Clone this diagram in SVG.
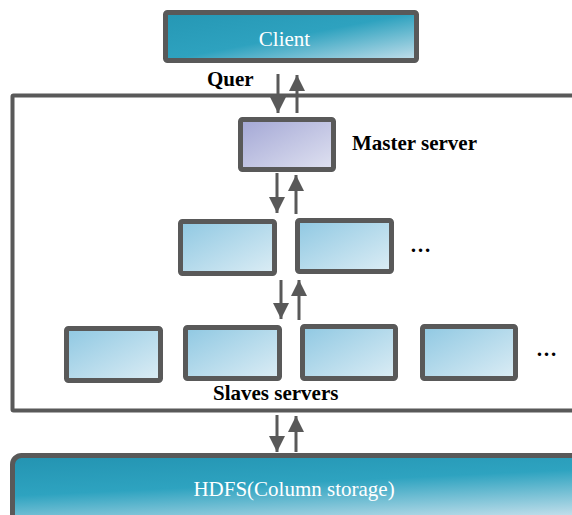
<svg xmlns="http://www.w3.org/2000/svg" width="572" height="515" viewBox="0 0 572 515">
<defs>
<linearGradient id="gTeal" x1="0" y1="0" x2="1" y2="1">
<stop offset="0" stop-color="#2597b4"/>
<stop offset="0.5" stop-color="#2ea2bf"/>
<stop offset="1" stop-color="#c6e0ec"/>
</linearGradient>
<linearGradient id="gHdfs" x1="0" y1="0" x2="0.35" y2="1">
<stop offset="0" stop-color="#2393b1"/>
<stop offset="0.45" stop-color="#2ea3c0"/>
<stop offset="1" stop-color="#cde3ee"/>
</linearGradient>
<linearGradient id="gBlue" x1="0" y1="0" x2="1" y2="1">
<stop offset="0" stop-color="#8fc8e2"/>
<stop offset="1" stop-color="#dcedf5"/>
</linearGradient>
<linearGradient id="gPurple" x1="0" y1="0" x2="1" y2="1">
<stop offset="0" stop-color="#a3a7d5"/>
<stop offset="1" stop-color="#e0e2f1"/>
</linearGradient>
<marker id="ah" markerUnits="userSpaceOnUse" markerWidth="16" markerHeight="20" viewBox="0 0 16 20" refX="16" refY="8" orient="auto">
<path d="M0,0 L16,8 L0,16 Z" fill="#595959"/>
</marker>
</defs>
<style>
.box{stroke:#595959;stroke-width:5;}
.blue{fill:url(#gBlue);}
.lbl{font-family:"Liberation Serif","Times New Roman",serif;font-weight:bold;font-size:21px;fill:#000;}
.wt{font-family:"Liberation Serif","Times New Roman",serif;font-size:21px;fill:#ffffff;}
.arr{stroke:#595959;stroke-width:3;fill:none;marker-end:url(#ah);}
</style>
<g id="container">
<rect x="12.5" y="95.5" width="600" height="315" fill="none" stroke="#595959" stroke-width="4" rx="1"/>
</g>
<g id="client">
<rect class="box" x="165.5" y="12.5" width="251" height="48" rx="2" fill="url(#gTeal)"/>
<text class="wt" x="284.5" y="45.5" text-anchor="middle">Client</text>
</g>
<g id="master">
<rect class="box" x="240.5" y="119.5" width="93" height="50" rx="2" fill="url(#gPurple)"/>
<text class="lbl" x="352" y="150">Master server</text>
</g>
<g id="mid1"><rect class="box blue" x="180.5" y="221.5" width="94" height="52" rx="2"/></g>
<g id="mid2"><rect class="box blue" x="297.5" y="220.5" width="94" height="51" rx="2"/></g>
<g id="mid-more"><text class="lbl" x="410" y="252">…</text></g>
<g id="slave1"><rect class="box blue" x="66.5" y="328.5" width="94" height="52" rx="2"/></g>
<g id="slave2"><rect class="box blue" x="185.5" y="327.5" width="94" height="51" rx="2"/></g>
<g id="slave3"><rect class="box blue" x="302.5" y="326.5" width="93" height="52" rx="2"/></g>
<g id="slave4"><rect class="box blue" x="422.5" y="326.5" width="93" height="52" rx="2"/></g>
<g id="slave-more"><text class="lbl" x="536" y="356">…</text></g>
<g id="slaves-label"><text class="lbl" x="213" y="400">Slaves servers</text></g>
<g id="query-label"><text class="lbl" x="207" y="86">Quer</text></g>
<g id="hdfs">
<rect class="box" x="12.5" y="455.5" width="600" height="80" rx="9" fill="url(#gHdfs)"/>
<text class="wt" x="294" y="496" text-anchor="middle">HDFS(Column storage)</text>
</g>
<g id="connectors">
<line class="arr" x1="278" y1="74" x2="278" y2="113"/>
<line class="arr" x1="297" y1="113" x2="297" y2="75"/>
<line class="arr" x1="277" y1="173" x2="277" y2="213"/>
<line class="arr" x1="296" y1="214" x2="296" y2="175"/>
<line class="arr" x1="281" y1="280" x2="281" y2="319"/>
<line class="arr" x1="299" y1="320" x2="299" y2="280"/>
<line class="arr" x1="277" y1="415" x2="277" y2="452"/>
<line class="arr" x1="296" y1="452" x2="296" y2="416"/>
</g>
</svg>
